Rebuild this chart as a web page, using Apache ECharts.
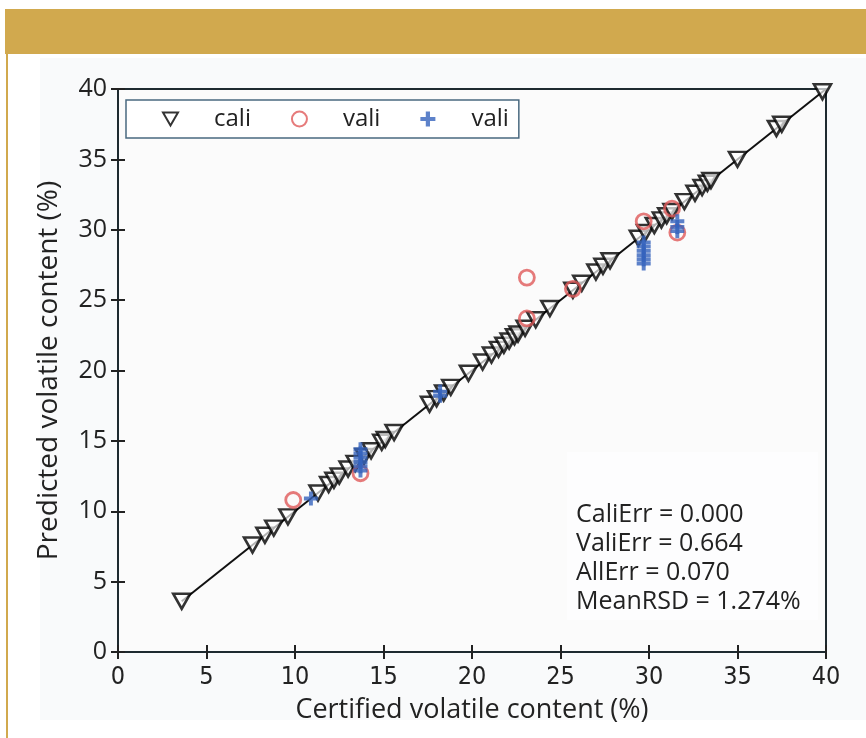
<!DOCTYPE html>
<html><head><meta charset="utf-8">
<script src="https://cdn.jsdelivr.net/npm/echarts@6/dist/echarts.min.js"></script>
<style>html,body{margin:0;padding:0;background:#fff}#c{width:866px;height:738px}</style>
</head><body><div id="c"></div>
<script>
// Calibration samples: certified vs predicted (on the 1:1 line)
const caliX = [3.6,7.6,8.3,8.8,9.6,11.3,11.9,12.2,12.5,13.0,13.4,13.9,14.3,14.9,15.1,15.6,17.6,18.0,18.4,18.8,19.8,20.6,21.1,21.5,21.8,22.1,22.4,22.6,23.0,23.6,24.4,25.7,26.2,27.0,27.4,27.8,29.4,29.8,30.3,30.7,31.0,31.3,32.0,32.6,33.0,33.3,33.5,35.0,37.2,37.5,39.8];
const caliY = [3.6,7.6,8.3,8.8,9.6,11.3,11.9,12.2,12.5,13.0,13.4,13.9,14.3,14.9,15.1,15.6,17.6,18.0,18.4,18.8,19.8,20.6,21.1,21.5,21.8,22.1,22.4,22.6,23.0,23.6,24.4,25.7,26.2,27.0,27.4,27.8,29.4,29.8,30.3,30.7,31.0,31.3,32.0,32.6,33.0,33.3,33.5,35.0,37.2,37.5,39.8];
// Validation (mean)
const valiX = [9.9,13.7,23.1,23.1,25.7,29.7,31.3,31.6];
const valiY = [10.8,12.7,26.6,23.7,25.8,30.6,31.5,29.8];
// Validation replicates
const repX = [10.9,13.7,13.7,13.7,13.7,13.7,13.7,18.2,18.2,29.7,29.7,29.7,29.7,29.7,29.7,31.6,31.6,31.6];
const repY = [10.9,12.9,13.2,13.5,13.8,14.1,14.4,18.2,18.5,27.6,27.9,28.2,28.5,28.8,29.1,29.9,30.2,30.6];
const lineX = [3.6,40];
const statLines = ['CaliErr = 0.000','ValiErr = 0.664','AllErr = 0.070','MeanRSD = 1.274%'];

const zip = (a,b)=>a.map((v,i)=>[v,b[i]]);
const tri = 'path://M0,0L16,0L8,14Z';
const plus = 'path://M3.6,0H6.4V3.6H10V6.4H6.4V10H3.6V6.4H0V3.6H3.6Z';
const F = '"Open Sans", "Noto Sans", sans-serif';
const FC = '"DejaVu Sans Condensed", "Liberation Sans Narrow", "Open Sans", sans-serif';

const chart = echarts.init(document.getElementById('c'));
const axisCommon = {min:0,max:40,interval:5,axisLine:{show:false},splitLine:{show:false},
  axisTick:{inside:true,length:7,lineStyle:{color:'#222',width:2}}};
chart.setOption({
  animation:false,
  backgroundColor:'#fff',
  graphic:[
    {type:'rect',shape:{x:40,y:58,width:826,height:662},style:{fill:'#f9fafb'},z:-10},
    {type:'rect',shape:{x:5,y:9,width:861,height:45},style:{fill:'#d1a94e'},z:-5},
    {type:'rect',shape:{x:6,y:54,width:2,height:684},style:{fill:'#d1a94e'},z:-5},
    {type:'group',left:567,top:452,z:100,children:[
      {type:'rect',shape:{x:0,y:0,width:251,height:168},style:{fill:'#fdfdfe'}},
      ...statLines.map((t,i)=>({type:'text',x:9,y:50+i*29,style:{text:t,font:'25px '+F,fill:'#222'}}))
    ]}
  ],
  grid:{left:118,right:40,top:89,bottom:86,show:true,backgroundColor:'#fbfbfb',borderColor:'#1e2a30',borderWidth:2},
  legend:{left:126,top:100,width:394,height:40,padding:[7,10,7,36],itemGap:40,itemWidth:15,itemHeight:15,
    borderColor:'#4a6a80',borderWidth:1.5,backgroundColor:'#fff',
    textStyle:{fontFamily:F,fontSize:24,color:'#222',padding:[0,0,0,31]},
    data:[{name:'cali',icon:tri},{name:'vali',icon:'circle'},{name:'vali2',icon:plus}],
    formatter:n=>n==='vali2'?'vali':n},
  xAxis:[
    Object.assign({},axisCommon,{type:'value',position:'bottom',name:'Certified volatile content (%)',nameLocation:'middle',nameGap:45,
      nameTextStyle:{fontFamily:F,fontSize:27,color:'#222'},
      axisLabel:{margin:13,fontFamily:FC,fontSize:25,color:'#222'}}),
    Object.assign({},axisCommon,{type:'value',position:'top',axisLabel:{show:false}})
  ],
  yAxis:[
    Object.assign({},axisCommon,{type:'value',position:'left',name:'Predicted volatile content (%)',nameLocation:'middle',nameGap:55,
      nameTextStyle:{fontFamily:F,fontSize:28,color:'#222'},
      axisLabel:{margin:11,fontFamily:F,fontSize:25,color:'#222'}}),
    Object.assign({},axisCommon,{type:'value',position:'right',axisLabel:{show:false}})
  ],
  series:[
    {type:'line',name:'fit',data:zip(lineX,lineX),showSymbol:false,symbol:'none',lineStyle:{color:'#111',width:2},z:1},
    {type:'scatter',name:'cali',data:zip(caliX,caliY),symbol:tri,symbolSize:[17,15],
      itemStyle:{color:'rgba(255,255,255,0.85)',borderColor:'#000',borderWidth:2.6},z:3},
    {type:'scatter',name:'vali',data:zip(valiX,valiY),symbol:'circle',symbolSize:15,
      itemStyle:{color:'rgba(255,255,255,0)',borderColor:'#e05a5a',borderWidth:2.8},z:4},
    {type:'scatter',name:'vali2',data:zip(repX,repY),symbol:plus,symbolSize:14,
      itemStyle:{color:'#3463bd'},z:5}
  ]
});
</script></body></html>
